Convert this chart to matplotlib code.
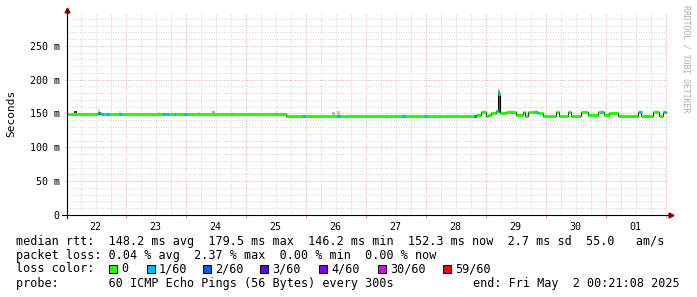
"""Smokeping-style latency chart (10 days, median rtt + loss colors)."""

import matplotlib

matplotlib.use("Agg")
import matplotlib.dates as mdates
import matplotlib.pyplot as plt
import numpy as np
import pandas as pd
from matplotlib.patches import Rectangle
from matplotlib.ticker import FuncFormatter, MultipleLocator, NullFormatter

plt.rcParams["font.family"] = "DejaVu Sans Mono"

start = "2025-04-22 00:21:08"
end = "2025-05-02 00:21:08"

# median rtt as steps (value holds until the next time), ms
median_times = [
    "2025-04-22 00:21", "2025-04-22 12:50", "2025-04-22 14:00", "2025-04-25 16:00",
    "2025-04-28 20:20", "2025-04-28 22:20", "2025-04-29 00:00", "2025-04-29 01:00",
    "2025-04-29 02:00", "2025-04-29 04:00", "2025-04-29 04:50", "2025-04-29 05:50",
    "2025-04-29 08:00", "2025-04-29 12:00", "2025-04-29 14:50", "2025-04-29 15:40",
    "2025-04-29 16:50", "2025-04-29 19:40", "2025-04-29 20:50", "2025-04-29 22:50",
    "2025-04-30 04:00", "2025-04-30 05:10", "2025-04-30 08:50", "2025-04-30 10:20",
    "2025-04-30 14:00", "2025-04-30 16:50", "2025-04-30 20:50", "2025-04-30 23:10",
    "2025-05-01 01:10", "2025-05-01 04:50", "2025-05-01 12:50", "2025-05-01 14:00",
    "2025-05-01 18:50", "2025-05-01 21:10", "2025-05-01 22:50",
]
median_ms = [
    148.7, 151.0, 148.7, 146.3,
    147.5, 151.5, 146.5, 148.5,
    150.5, 154.0, 179.5, 150.0,
    152.0, 148.5, 151.5, 146.5,
    151.5, 152.5, 150.0, 146.5,
    151.5, 146.5, 151.5, 146.5,
    151.5, 147.5, 151.5, 148.5,
    151.0, 146.2, 151.5, 146.5,
    151.5, 146.5, 152.3,
]

# steps with lost pings (count out of 60)
loss_times = [
    "2025-04-22 12:50", "2025-04-22 14:20", "2025-04-22 16:20", "2025-04-22 21:30",
    "2025-04-23 14:40", "2025-04-23 16:20", "2025-04-23 19:10", "2025-04-23 23:30",
    "2025-04-25 22:40", "2025-04-26 12:40", "2025-04-27 14:40", "2025-04-27 23:30",
    "2025-04-28 19:20", "2025-04-29 04:00", "2025-04-29 04:50", "2025-04-29 19:40",
    "2025-04-30 22:00", "2025-05-01 13:30", "2025-05-01 22:50",
]
loss_counts = [2, 1, 1, 1, 1, 1, 1, 1, 1, 1, 1, 1, 2, 1, 1, 1, 1, 1, 1]

# smoke (spread of single pings), ms, density 0..1
smoke_times = [
    "2025-04-22 03:30", "2025-04-22 12:50", "2025-04-22 21:10", "2025-04-23 12:40",
    "2025-04-23 18:00", "2025-04-24 04:40", "2025-04-24 10:40", "2025-04-24 18:00",
    "2025-04-25 12:00", "2025-04-26 10:40", "2025-04-26 12:40", "2025-04-29 19:40",
    "2025-04-29 04:50", "2025-04-29 04:50", "2025-04-29 04:50",
]
smoke_lo_ms = [149.5, 151.0, 149.5, 149.5, 149.5, 149.5, 149.5, 149.5, 149.5, 147.0, 147.0, 152.0, 150.0, 151.0, 152.0]
smoke_hi_ms = [153.0, 156.0, 153.0, 152.0, 154.0, 152.0, 153.0, 152.0, 153.0, 152.0, 154.0, 155.5, 186.0, 183.0, 181.0]
smoke_density = [0.9, 0.2, 0.15, 0.15, 0.15, 0.15, 0.4, 0.15, 0.15, 0.3, 0.25, 0.2, 0.3, 0.6, 0.8]

loss_levels = [0, 1, 2, 3, 4, 30, 59]
loss_labels = ["0", "1/60", "2/60", "3/60", "4/60", "30/60", "59/60"]
loss_colors = ["#26ff00", "#00b8ff", "#0059ff", "#5e00ff", "#7e00ff", "#dd00ff", "#ff0000"]

step_days = 1 / 24


def to_num(strings):
    return mdates.date2num(pd.to_datetime(strings, format="mixed").to_pydatetime())


W, H = 697, 297
fig = plt.figure(figsize=(W / 100, H / 100), dpi=100)
fig.patch.set_facecolor("white")
ax = fig.add_axes([66.5 / W, 1 - 215 / H, 600 / W, 202 / H])

# smoke
st = to_num(smoke_times)
lo = np.array(smoke_lo_ms) / 1000
hi = np.array(smoke_hi_ms) / 1000
for x, a, b, d in zip(st, lo, hi, smoke_density):
    g = 1 - 0.85 * d
    ax.bar(x, b - a, bottom=a, width=step_days, align="edge", color=(g, g, g), lw=0, zorder=2)

# median line
tn = to_num(median_times + [end])
v = np.array(median_ms) / 1000
ax.step(tn, np.append(v, v[-1]), where="post", color="black", lw=0.75, zorder=3)
ax.hlines(v, tn[:-1], tn[1:], colors=loss_colors[0], lw=2.2, zorder=4)

lt = to_num(loss_times)
for x, n in zip(lt, loss_counts):
    idx = np.searchsorted(tn, x, side="right") - 1
    ax.hlines(v[idx], x, x + step_days, colors=loss_colors[loss_levels.index(n)], lw=2.2, zorder=5)

x0, x1 = to_num([start, end])
ax.set_xlim(x0, x1)
ax.set_ylim(0, 0.2985)

# grid
ax.yaxis.set_major_locator(MultipleLocator(0.05))
ax.yaxis.set_minor_locator(MultipleLocator(0.01))
ax.yaxis.set_major_formatter(FuncFormatter(lambda y, _: "0" if abs(y) < 1e-9 else f"{y * 1000:.0f} m"))
ax.xaxis.set_major_locator(mdates.DayLocator())
ax.xaxis.set_minor_locator(mdates.HourLocator(byhour=[6, 12, 18]))
ax.xaxis.set_major_formatter(NullFormatter())
ax.grid(which="minor", color="#d4d4d4", linestyle=(0, (1, 1.6)), lw=0.7, zorder=1)
ax.grid(which="major", color="#eaa8a8", linestyle=(0, (1, 1.6)), lw=0.7, zorder=1)
ax.set_axisbelow(True)

ax.tick_params(axis="y", which="major", length=1.5, width=0.7, color="#eaa8a8", pad=3.5, labelsize=7.2)
ax.tick_params(axis="y", which="minor", length=0)
ax.tick_params(axis="x", which="major", length=2, width=0.7, color="#c8a0a0")
ax.tick_params(axis="x", which="minor", length=0)

sec = ax.secondary_xaxis("bottom")
sec.xaxis.set_major_locator(mdates.HourLocator(byhour=12))
sec.xaxis.set_major_formatter(mdates.DateFormatter("%d"))
sec.tick_params(length=0, labelsize=7.2, pad=5)
sec.spines["bottom"].set_visible(False)

for s in ax.spines.values():
    s.set_visible(False)

# axes with arrows
ax.plot([-5 / 600, 1 + 2 / 600], [0, 0], transform=ax.transAxes, color="black", lw=0.8, clip_on=False, zorder=6)
ax.plot([0, 0], [-3 / 202, 1 + 1 / 202], transform=ax.transAxes, color="black", lw=0.8, clip_on=False, zorder=6)
ax.plot(1 + 4 / 600, 0, marker=">", ms=3.5, color="#800000", transform=ax.transAxes, clip_on=False, zorder=7)
ax.plot(0, 1 + 3 / 202, marker="^", ms=3.5, color="#800000", transform=ax.transAxes, clip_on=False, zorder=7)

fig.text(11 / W, 1 - 113 / H, "Seconds", rotation=90, ha="center", va="center", fontsize=8)
fig.text(686 / W, 1 - 5 / H, "RRDTOOL / TOBI OETIKER", rotation=270, ha="center", va="top",
         fontsize=5.9, color="#adadad")

# legend
fs = 8.5
fig.text(16 / W, 1 - 242 / H,
         "median rtt:  148.2 ms avg  179.5 ms max  146.2 ms min  152.3 ms now  2.7 ms sd  55.0   am/s",
         ha="left", va="center", fontsize=fs)
fig.text(16 / W, 1 - 255.5 / H, "packet loss: 0.04 % avg  2.37 % max  0.00 % min  0.00 % now",
         ha="left", va="center", fontsize=fs)
fig.text(16 / W, 1 - 269 / H, "loss color:", ha="left", va="center", fontsize=fs)
box_x = [109, 147, 203, 260, 319, 378, 443]
for bx, lab, c in zip(box_x, loss_labels, loss_colors):
    fig.add_artist(Rectangle((bx / W, 1 - 272.5 / H), 7.5 / W, 7.5 / H, transform=fig.transFigure,
                             facecolor=c, edgecolor="black", lw=0.7))
    fig.text((bx + 12) / W, 1 - 269 / H, lab, ha="left", va="center", fontsize=fs)
fig.text(16 / W, 1 - 283 / H, "probe:       60 ICMP Echo Pings (56 Bytes) every 300s",
         ha="left", va="center", fontsize=fs)
fig.text(680 / W, 1 - 283 / H, "end: Fri May  2 00:21:08 2025", ha="right", va="center", fontsize=fs)

fig.savefig("out.png", dpi=100, facecolor="white")
